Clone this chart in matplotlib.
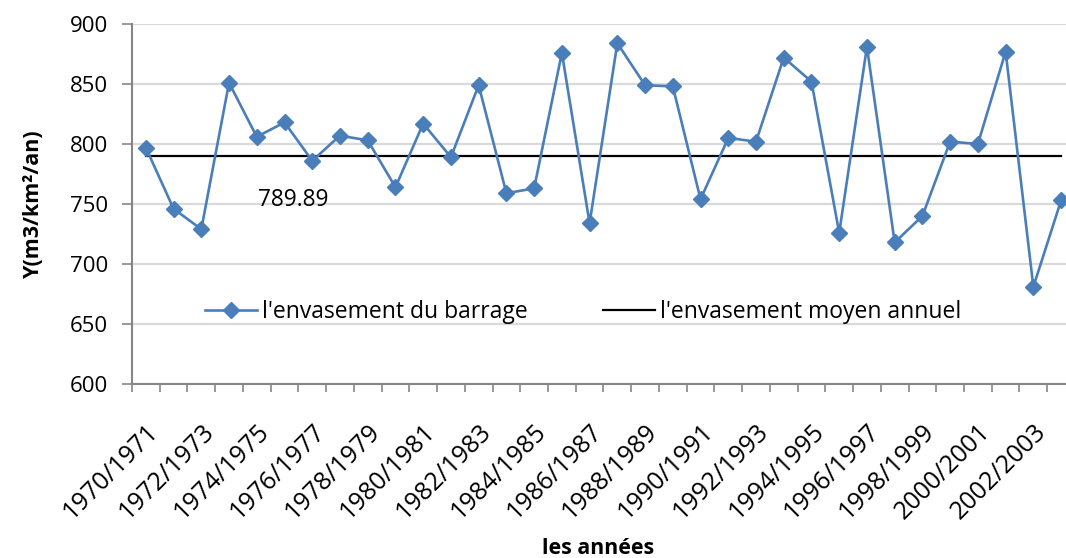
import matplotlib
matplotlib.use("Agg")
import matplotlib.pyplot as plt
from matplotlib.transforms import ScaledTranslation

plt.rcParams.update({
    "font.family": ["Open Sans", "DejaVu Sans"],
    "font.size": 16,
})

# hydrological years 1970/1971 .. 2003/2004
years = [f"{y}/{y + 1}" for y in range(1970, 2004)]
envasement = [797, 746, 729, 851, 806, 818, 786, 807, 803, 764,
              817, 789, 849, 759, 763, 876, 734, 884, 849, 848,
              754, 805, 802, 872, 852, 726, 881, 718, 740, 802,
              800, 877, 681, 753]
moyenne = 789.89
y_ticks = [600, 650, 700, 750, 800, 850, 900]

BLUE = "#4a7ebb"
GRID = "#d9d9d9"
AXIS = "#868686"

fig = plt.figure(figsize=(10.66, 5.58), dpi=100)
# axes run slightly past the right edge, last category is clipped
ax = fig.add_axes([0.1238, 0.3118, 0.8846, 0.6452])

x = list(range(len(years)))
ax.plot(x, envasement, "-D", color=BLUE, lw=1.9, ms=8, mec=BLUE,
        label="l'envasement du barrage", zorder=3)
ax.plot(x, [moyenne] * len(x), "-", color="black", lw=1.6,
        label="l'envasement moyen annuel", zorder=2)
ax.text(4.05, 753, f"{moyenne:.2f}", fontsize=16.3, va="center", ha="left")

ax.set_xlim(-0.5, len(years) - 0.5)
ax.set_ylim(600, 900)
ax.set_yticks(y_ticks)
ax.grid(True, axis="y", color=GRID, lw=1.6)
ax.set_axisbelow(True)

# ticks between categories, labels on every other category
ax.set_xticks([i - 0.5 for i in range(len(years) + 1)])
ax.set_xticklabels([])
ax.set_xticks(x[::2], minor=True)
ax.set_xticklabels(years[::2], minor=True, rotation=45, ha="right",
                   rotation_mode="anchor", fontsize=18)
nudge = ScaledTranslation(4 / 72, 0, fig.dpi_scale_trans)
for lab in ax.get_xticklabels(minor=True):
    lab.set_transform(lab.get_transform() + nudge)
ax.tick_params(axis="x", which="major", length=6, width=1.2, color=AXIS)
ax.tick_params(axis="x", which="minor", length=0, pad=25)
ax.tick_params(axis="y", length=7, width=1.2, color=AXIS, pad=10,
               labelsize=16)

for side in ("top", "right"):
    ax.spines[side].set_visible(False)
for side in ("left", "bottom"):
    ax.spines[side].set_color(AXIS)
    ax.spines[side].set_linewidth(1.5)

ax.set_ylabel("Y(m3/km²/an)", fontweight="bold", fontsize=15.5)
ax.yaxis.set_label_coords(-0.093, 0.5)
fig.text(0.561, 0.008, "les années", fontweight="bold", fontsize=15.4,
         ha="center", va="baseline")

ax.legend(loc="center left", bbox_to_anchor=(0.0774, 0.2), ncol=2,
          frameon=False, fontsize=16.5, handlelength=2.27,
          handletextpad=0.22, columnspacing=3.3, borderpad=0,
          borderaxespad=0)

fig.savefig("out.png", dpi=100)
